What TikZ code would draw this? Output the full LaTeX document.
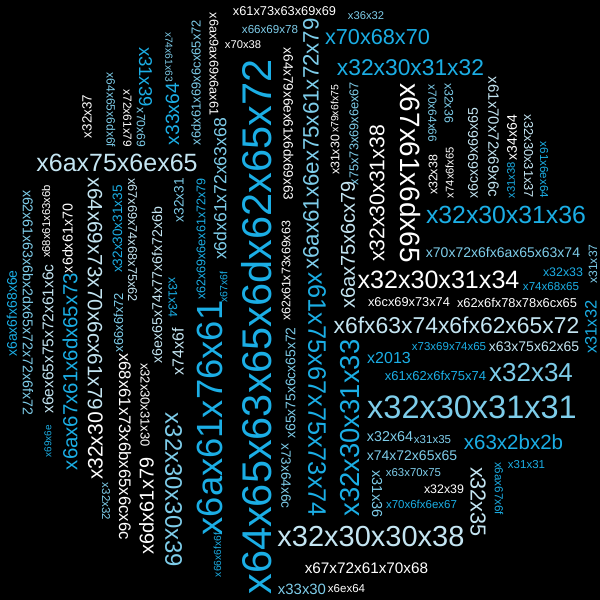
\documentclass[tikz,border=0pt]{standalone}
\usepackage{fontspec}
\setmainfont{Liberation Sans}
\usepackage{xcolor}
\usetikzlibrary{positioning}

\definecolor{cwhite}{HTML}{FFFFFF}
\definecolor{cpale}{HTML}{C4E5F2}
\definecolor{csky}{HTML}{7ECDEA}
\definecolor{cblue}{HTML}{1BAEE5}
\newcommand{\wsize}[1]{\fontsize{#1bp}{#1bp}\selectfont}

\begin{document}
\begin{tikzpicture}[x=1bp, y=-1bp,
			word/.style={inner sep=0pt, outer sep=0pt},
			inwhite/.style={word, text=cwhite},
			inpale/.style={word, text=cpale},
			insky/.style={word, text=csky},
			inblue/.style={word, text=cblue},
			vup/.style={rotate=90},
			vdown/.style={rotate=-90}
		]
		% Background
		\fill[black] (0,0) rectangle (600,600);
		\useasboundingbox (0,0) rectangle (600,600);
		% Horizontal words
		\node [inwhite, font=\wsize{12.8}] (ascii) at (284.5,11) {x61x73x63x69x69};
		\node [insky, font=\wsize{11.2}] (n62) at (366,16) {x36x32};
		\node [insky, font=\wsize{11.6}] (fix) at (270,30) {x66x69x78};
		\node [inwhite, font=\wsize{11.2}] (p8) at (243,45) {x70x38};
		\node [inblue, font=\wsize{21.7}] (php) at (377.5,37) {x70x68x70};
		\node [inblue, font=\wsize{22.8}] (n2012) at (410.5,68) {x32x30x31x32};
		\node [inpale, font=\wsize{25}] (june) at (117,163) {x6ax75x6ex65};
		\node [inblue, font=\wsize{24.8}] (n2016) at (506,215) {x32x30x31x36};
		\node [insky, font=\wsize{14}] (project) at (503,253) {x70x72x6fx6ax65x63x74};
		\node [inwhite, font=\wsize{25.1}] (n2014) at (438.5,280) {x32x30x31x34};
		\node [inblue, font=\wsize{12.4}] (n23) at (563,272) {x32x33};
		\node [inblue, font=\wsize{11.6}] (the) at (551,287) {x74x68x65};
		\node [inwhite, font=\wsize{12.8}] (list) at (409,302) {x6cx69x73x74};
		\node [inwhite, font=\wsize{12.85}] (boxxle) at (517,303) {x62x6fx78x78x6cx65};
		\node [inpale, font=\wsize{22.9}] (october) at (456.5,325) {x6fx63x74x6fx62x65x72};
		\node [inblue, font=\wsize{16}] (dash) at (389,358) {x2013};
		\node [inblue, font=\wsize{11.5}] (site) at (449,347) {x73x69x74x65};
		\node [inpale, font=\wsize{14}] (cube) at (534,347) {x63x75x62x65};
		\node [inblue, font=\wsize{13}] (about) at (435.5,376) {x61x62x6fx75x74};
		\node [insky, font=\wsize{26}] (n24) at (531,373) {x32x34};
		\node [insky, font=\wsize{32.5}] (n2011) at (472,407) {x32x30x31x31};
		\node [insky, font=\wsize{14.3}] (n2d) at (390,437) {x32x64};
		\node [insky, font=\wsize{11.5}] (n15) at (432.5,440) {x31x35};
		\node [inblue, font=\wsize{20.5}] (cpp) at (513.5,442) {x63x2bx2b};
		\node [insky, font=\wsize{14}] (tree) at (412,456) {x74x72x65x65};
		\node [insky, font=\wsize{11.4}] (cpu) at (413.5,473) {x63x70x75};
		\node [inblue, font=\wsize{11.5}] (n11) at (526.5,465) {x31x31};
		\node [inwhite, font=\wsize{12.4}] (n29) at (444,489) {x32x39};
		\node [inblue, font=\wsize{11.5}] (pong) at (421.5,504) {x70x6fx6ex67};
		\node [inpale, font=\wsize{29}] (n2008) at (371,537) {x32x30x30x38};
		\node [inwhite, font=\wsize{15.3}] (graph) at (366.5,568) {x67x72x61x70x68};
		\node [insky, font=\wsize{14.9}] (n30) at (302,589) {x33x30};
		\node [inwhite, font=\wsize{11.5}] (nd) at (346.5,589) {x6ex64};
		% Vertical words, middle
		\node [inblue, font=\wsize{41.5}, vup] (december) at (257,327) {x64x65x63x65x6dx62x65x72};
		\node [inblue, font=\wsize{36.4}, vup] (java) at (210,418) {x6ax61x76x61};
		\node [insky, font=\wsize{17.6}, vup] (march) at (220,189) {x6dx61x72x63x68};
		\node [inwhite, font=\wsize{12.7}, vdown] (topword) at (214,64) {x6ax9ax69x6ax61};
		\node [inwhite, font=\wsize{13.5}, vdown] (dynamic) at (288.5,124) {x64x79x6ex61x6dx69x63};
		\node [inwhite, font=\wsize{12.4}, vup] (basic) at (286,271) {x62x61x73x69x63};
		\node [insky, font=\wsize{13.9}, vup] (euler) at (290.5,383) {x65x75x6cx65x72};
		\node [insky, font=\wsize{13.6}, vdown] (sdl) at (286,476) {x73x64x6c};
		\node [inblue, font=\wsize{10.3}, vup] (foo) at (217.5,555) {x66x6fx6f};
		\node [inblue, font=\wsize{10.5}, vup] (go) at (223.5,287) {x67x6f};
		\node [insky, font=\wsize{22.3}, vup] (january) at (311,144) {x6ax61x6ex75x61x72x79};
		\node [inblue, font=\wsize{25.3}, vdown] (august) at (317,394.5) {x61x75x67x75x73x74};
		\node [inwhite, font=\wsize{12.4}, vup] (n10) at (335,155) {x31x30};
		\node [inwhite, font=\wsize{10.5}, vup] (you) at (334.5,109) {x79x6fx75};
		\node [insky, font=\wsize{12.8}, vup] (using) at (354,133.5) {x75x73x69x6ex67};
		\node [inwhite, font=\wsize{21.2}, vup] (n2018) at (377,193.5) {x32x30x31x38};
		\node [inpale, font=\wsize{20}, vup] (july) at (348,245) {x6ax75x6cx79};
		\node [inblue, font=\wsize{27.4}, vup] (n2013) at (350,428) {x32x30x31x33};
		\node [insky, font=\wsize{14.5}, vdown] (n16) at (377,494) {x31x36};
		% Vertical words, right
		\node [inwhite, font=\wsize{27.9}, vdown] (game) at (410,173) {x67x61x6dx65};
		\node [insky, font=\wsize{11.8}, vdown] (pdf) at (432.5,113.5) {x70x64x66};
		\node [insky, font=\wsize{12.4}, vdown] (n26) at (449,103) {x32x36};
		\node [inwhite, font=\wsize{12.4}, vup] (n28) at (433,175) {x32x38};
		\node [inwhite, font=\wsize{11.2}, vup] (toe) at (449.5,172.5) {x74x6fx65};
		\node [inpale, font=\wsize{14.1}, vup] (life) at (473,153) {x6cx69x66x65};
		\node [inpale, font=\wsize{15}, vdown] (april) at (493.5,137) {x61x70x72x69x6c};
		\node [inwhite, font=\wsize{14}, vup] (n4d) at (512,137.5) {x34x64};
		\node [inblue, font=\wsize{11.2}, vup] (n18) at (511,180) {x31x38};
		\node [inpale, font=\wsize{12.9}, vdown] (n2017) at (528.5,156.5) {x32x30x31x37};
		\node [inblue, font=\wsize{11.6}, vdown] (and) at (544,170) {x61x6ex64};
		\node [insky, font=\wsize{12.1}, vup] (n17) at (593,264) {x31x37};
		\node [inblue, font=\wsize{16.5}, vup] (n12) at (591,327) {x31x32};
		\node [inpale, font=\wsize{21.7}, vdown] (n25) at (478,502) {x32x35};
		\node [inblue, font=\wsize{11.6}, vdown] (jgo) at (499,488.5) {x6ax67x6f};
		% Vertical words, left
		\node [inwhite, font=\wsize{13.4}, vup] (n27) at (87,116.5) {x32x37};
		\node [insky, font=\wsize{12}, vdown] (demo) at (111,110) {x64x65x6dx6f};
		\node [inwhite, font=\wsize{11.8}, vdown] (ray) at (127.5,118.5) {x72x61x79};
		\node [inblue, font=\wsize{18.6}, vdown] (n19) at (145.5,77) {x31x39};
		\node [insky, font=\wsize{12.1}, vdown] (pi) at (141,127.5) {x70x69};
		\node [insky, font=\wsize{10.3}, vdown] (tac) at (169,57) {x74x61x63};
		\node [inblue, font=\wsize{19.3}, vup] (n3d) at (172.5,114) {x33x64};
		\node [insky, font=\wsize{13}, vup] (mailer) at (196,82.5) {x6dx61x69x6cx65x72};
		\node [inblue, font=\wsize{14}, vup] (john) at (12,313.5) {x6ax6fx68x6e};
		\node [insky, font=\wsize{14.2}, vdown] (backerror) at (28,302.5) {x62x61x63x6bx2dx65x72x72x6fx72};
		\node [inwhite, font=\wsize{11.3}, vup] (hack) at (46,221.5) {x68x61x63x6b};
		\node [inpale, font=\wsize{15.5}, vup] (neural) at (48,339) {x6ex65x75x72x61x6c};
		\node [inblue, font=\wsize{10}, vup] (in) at (48,441) {x69x6e};
		\node [inwhite, font=\wsize{14.3}, vup] (map) at (67.5,238.5) {x6dx61x70};
		\node [inblue, font=\wsize{20.4}, vup] (jgames) at (70,371.5) {x6ax67x61x6dx65x73};
		\node [inpale, font=\wsize{20.7}, vdown] (display) at (95,294) {x64x69x73x70x6cx61x79};
		\node [inwhite, font=\wsize{21}, vup] (n20) at (95.5,446) {x32x30};
		\node [insky, font=\wsize{11.5}, vdown] (n22) at (106,501.5) {x32x32};
		\node [inblue, font=\wsize{13.6}, vup] (n2015) at (117.5,229) {x32x30x31x35};
		\node [insky, font=\wsize{13}, vup] (for) at (118.5,322.5) {x66x6fx72};
		\node [inwhite, font=\wsize{16.7}, vdown] (haskell) at (125,446.5) {x68x61x73x6bx65x6cx6c};
		\node [inpale, font=\wsize{12.8}, vdown] (github) at (132.5,240) {x67x69x74x68x75x62};
		\node [inwhite, font=\wsize{13}, vdown] (n2010) at (145,405) {x32x30x31x30};
		\node [inwhite, font=\wsize{20}, vup] (may) at (146.5,506) {x6dx61x79};
		\node [inpale, font=\wsize{14.2}, vup] (network) at (157,285) {x6ex65x74x77x6fx72x6b};
		\node [inblue, font=\wsize{12.5}, vdown] (n14) at (173,297.5) {x31x34};
		\node [inpale, font=\wsize{16}, vup] (to) at (178,351.5) {x74x6f};
		\node [insky, font=\wsize{23.9}, vdown] (n2009) at (173.5,490) {x32x30x30x39};
		\node [insky, font=\wsize{13.7}, vup] (n21) at (179,200) {x32x31};
		\node [inblue, font=\wsize{12.6}, vup] (binary) at (201,239) {x62x69x6ex61x72x79};
	\end{tikzpicture}
\end{document}
